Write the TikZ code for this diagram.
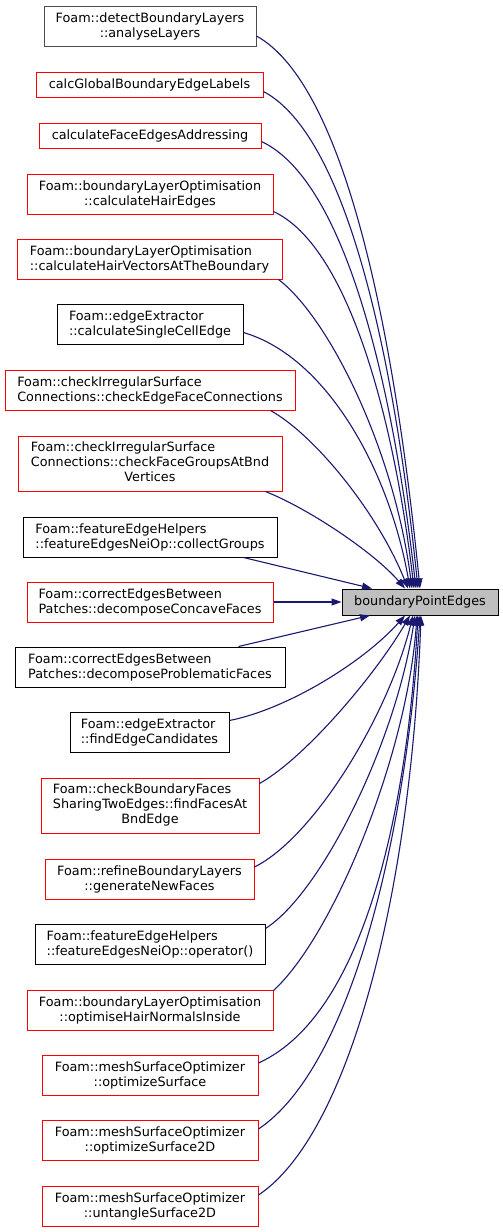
\documentclass[tikz,border=0pt]{standalone}
\usepackage{fontspec}
\setmainfont{DejaVu Sans}
\usetikzlibrary{arrows.meta}
\definecolor{edgeblue}{RGB}{25,25,112}
\definecolor{targetgray}{RGB}{191,191,191}
\newcommand{\lastc}[1]{\multicolumn{1}{@{}c@{}}{#1}}

\begin{document}
\begin{tikzpicture}[x=1pt, y=-1pt, >={Triangle[length=10pt, width=7pt]},
		every node/.style={font=\fontsize{12.8}{15}\selectfont, inner sep=0pt},
		fn/.style={draw=black, line width=1pt, align=center, minimum height=40pt},
		undoc/.style={fn, draw=red},
		h1/.style={minimum height=25pt},
		h3/.style={minimum height=55pt},
		call/.style={->, edgeblue, line width=1.1pt}]
	\useasboundingbox (0,0) rectangle (503,1232);
	
	% === 调用者 (左列, 全部以 x=150 居中) ===
	\node[fn, draw=black!70, minimum width=212pt] (analyseLayers) at (150,26) {Foam::detectBoundaryLayers\\::analyseLayers};
	\node[undoc, h1, minimum width=227pt] (calcGlobal) at (149.5,84.5) {calcGlobalBoundaryEdgeLabels};
	\node[undoc, h1, minimum width=222pt] (calcFaceEdges) at (150,135.5) {calculateFaceEdgesAddressing};
	\node[undoc, minimum width=246pt] (hairEdges) at (150,194) {Foam::boundaryLayerOptimisation\\::calculateHairEdges};
	\node[undoc, align=left, minimum width=265pt] (hairVectors) at (149.5,259) {Foam::boundaryLayerOptimisation\\::calculateHairVectorsAtTheBoundary};
	\node[fn, align=left, minimum width=186pt] (singleCell) at (150,324.5) {Foam::edgeExtractor\\::calculateSingleCellEdge};
	\node[undoc, align=left, minimum width=290pt] (edgeFaceConn) at (150,390) {Foam::checkIrregularSurface\\Connections::checkEdgeFaceConnections};
	\node[undoc, h3, minimum width=264pt] (faceGroups) at (150,463.5) {\begin{tabular}{@{}l@{}}Foam::checkIrregularSurface\\Connections::checkFaceGroupsAtBnd\\\lastc{Vertices}\end{tabular}};
	\node[fn, align=left, minimum width=254pt] (collectGroups) at (150,537) {Foam::featureEdgeHelpers\\::featureEdgesNeiOp::collectGroups};
	\node[undoc, align=left, minimum width=246pt] (concaveFaces) at (150,602) {Foam::correctEdgesBetween\\Patches::decomposeConcaveFaces};
	\node[fn, align=left, minimum width=270pt] (problematicFaces) at (150,667) {Foam::correctEdgesBetween\\Patches::decomposeProblematicFaces};
	\node[fn, align=left, minimum width=159pt] (edgeCandidates) at (149.5,732.5) {Foam::edgeExtractor\\::findEdgeCandidates};
	\node[undoc, h3, minimum width=218pt] (facesAtBnd) at (150,805.5) {\begin{tabular}{@{}l@{}}Foam::checkBoundaryFaces\\SharingTwoEdges::findFacesAt\\\lastc{BndEdge}\end{tabular}};
	\node[undoc, minimum width=209pt] (newFaces) at (149.5,879) {Foam::refineBoundaryLayers\\::generateNewFaces};
	\node[fn, align=left, minimum width=230pt] (neiOperator) at (150,944.5) {Foam::featureEdgeHelpers\\::featureEdgesNeiOp::operator()};
	\node[undoc, minimum width=246pt] (hairNormals) at (150,1010) {Foam::boundaryLayerOptimisation\\::optimiseHairNormalsInside};
	\node[undoc, minimum width=216pt] (optSurface) at (150,1075) {Foam::meshSurfaceOptimizer\\::optimizeSurface};
	\node[undoc, minimum width=216pt] (optSurface2D) at (150,1140) {Foam::meshSurfaceOptimizer\\::optimizeSurface2D};
	\node[undoc, minimum width=216pt] (untangle2D) at (150,1206) {Foam::meshSurfaceOptimizer\\::untangleSurface2D};
	
	% === 被调用函数 ===
	\node[fn, fill=targetgray, minimum width=156pt, minimum height=26pt] (bpe) at (420,602) {boundaryPointEdges};
	
	% === 上方调用 (进入顶边) ===
	\draw[call] ([yshift=-10pt]analyseLayers.east) .. controls +(90,50) and +(-25,-250) .. (bpe.north);
	\draw[call] ([yshift=-7pt]calcGlobal.east) .. controls +(85,45) and +(-23,-224) .. ([xshift=-2pt]bpe.north);
	\draw[call] ([yshift=-6pt]calcFaceEdges.east) .. controls +(85,40) and +(-23,-200) .. ([xshift=-4pt]bpe.north);
	\draw[call] ([yshift=3pt]hairEdges.south east) .. controls +(75,35) and +(-20,-170) .. ([xshift=-6pt]bpe.north);
	\draw[call] ([xshift=-4pt]hairVectors.south east) .. controls +(50,38) and +(-18,-140) .. ([xshift=-8pt]bpe.north);
	\draw[call] ([yshift=-8pt]singleCell.east) .. controls +(85,25) and +(-20,-115) .. ([xshift=-10pt]bpe.north);
	\draw[call] ([xshift=-25pt]edgeFaceConn.south east) .. controls +(45,25) and +(-30,-75) .. ([xshift=-12pt]bpe.north);
	\draw[call] ([xshift=-17pt]faceGroups.south east) .. controls +(45,18) and +(-30,-35) .. ([xshift=-15pt]bpe.north);
	\draw[call] ([xshift=-34pt]collectGroups.south east) -- ([xshift=-48pt]bpe.north);
	\draw[call] (concaveFaces.east) -- (bpe.west);
	
	% === 下方调用 (进入底边) ===
	\draw[call] ([xshift=-47pt]problematicFaces.north east) -- ([xshift=-50pt]bpe.south);
	\draw[call] ([yshift=12pt]edgeCandidates.east) .. controls +(60,-12) and +(-40,45) .. ([xshift=-15pt]bpe.south);
	\draw[call] ([yshift=22pt]facesAtBnd.east) .. controls +(45,-25) and +(-35,60) .. ([xshift=-10pt]bpe.south);
	\draw[call] ([yshift=12pt]newFaces.east) .. controls +(60,-30) and +(-25,100) .. ([xshift=-7pt]bpe.south);
	\draw[call] ([yshift=16pt]neiOperator.east) .. controls +(55,-35) and +(-20,130) .. ([xshift=-5pt]bpe.south);
	\draw[call] ([yshift=-1pt]hairNormals.north east) .. controls +(60,-55) and +(-10,140) .. ([xshift=-3pt]bpe.south);
	\draw[call] ([yshift=12pt]optSurface.east) .. controls +(110,-50) and +(-10,180) .. ([xshift=-2pt]bpe.south);
	\draw[call] ([yshift=11pt]optSurface2D.east) .. controls +(90,-60) and +(-15,230) .. (bpe.south);
	\draw[call] ([yshift=11pt]untangle2D.east) .. controls +(90,-60) and +(-10,280) .. ([xshift=1pt]bpe.south);
\end{tikzpicture}
\end{document}
